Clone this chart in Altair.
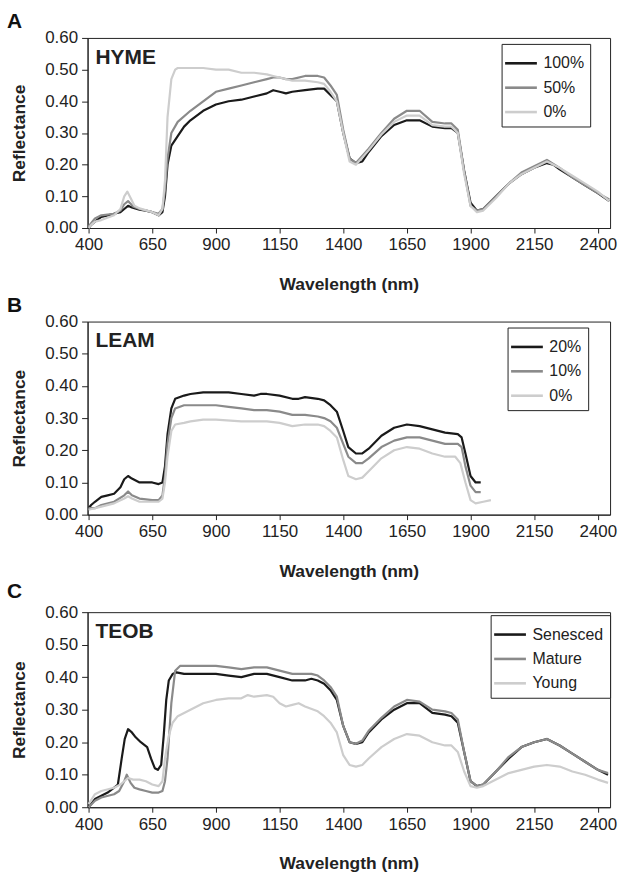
import altair as alt
import pandas as pd

# ---------------- Panel A: HYME ----------------
a100_wl = [400, 410, 425, 450, 475, 500, 525, 540, 555, 570, 600, 625, 650, 675, 690, 700, 710, 725, 750, 775, 800, 850, 900, 950, 1000, 1050, 1100, 1125, 1150, 1175, 1200, 1250, 1300, 1325, 1350, 1375, 1400, 1425, 1450, 1475, 1500, 1550, 1600, 1650, 1700, 1750, 1800, 1825, 1850, 1875, 1900, 1925, 1950, 2000, 2050, 2100, 2150, 2200, 2225, 2250, 2300, 2350, 2400, 2445]
a100_r = [0.000, 0.010, 0.020, 0.035, 0.040, 0.045, 0.050, 0.060, 0.070, 0.065, 0.058, 0.055, 0.050, 0.040, 0.050, 0.100, 0.200, 0.260, 0.290, 0.320, 0.340, 0.370, 0.390, 0.400, 0.405, 0.415, 0.425, 0.435, 0.430, 0.425, 0.430, 0.435, 0.440, 0.440, 0.420, 0.400, 0.300, 0.220, 0.205, 0.210, 0.240, 0.290, 0.325, 0.340, 0.340, 0.320, 0.315, 0.315, 0.300, 0.180, 0.080, 0.055, 0.060, 0.100, 0.140, 0.170, 0.190, 0.205, 0.200, 0.185, 0.160, 0.135, 0.110, 0.085]

a50_wl = [400, 410, 425, 450, 500, 525, 540, 555, 575, 600, 650, 675, 690, 700, 710, 725, 750, 800, 850, 900, 950, 1000, 1050, 1100, 1125, 1150, 1175, 1200, 1250, 1300, 1325, 1350, 1375, 1400, 1425, 1450, 1500, 1550, 1600, 1650, 1700, 1750, 1800, 1825, 1850, 1875, 1900, 1925, 1950, 2000, 2050, 2100, 2150, 2200, 2250, 2300, 2350, 2400, 2445]
a50_r = [0.005, 0.015, 0.030, 0.040, 0.045, 0.055, 0.075, 0.085, 0.068, 0.060, 0.050, 0.045, 0.060, 0.120, 0.220, 0.300, 0.335, 0.370, 0.400, 0.430, 0.440, 0.450, 0.460, 0.470, 0.475, 0.475, 0.470, 0.470, 0.480, 0.480, 0.475, 0.450, 0.420, 0.310, 0.220, 0.205, 0.250, 0.300, 0.345, 0.370, 0.370, 0.335, 0.330, 0.330, 0.310, 0.180, 0.070, 0.055, 0.060, 0.100, 0.140, 0.175, 0.195, 0.215, 0.190, 0.160, 0.135, 0.110, 0.090]

a0_wl = [400, 410, 425, 450, 500, 525, 540, 552, 565, 580, 600, 650, 675, 690, 700, 710, 725, 740, 750, 800, 850, 900, 950, 1000, 1050, 1100, 1125, 1150, 1200, 1250, 1300, 1325, 1350, 1375, 1400, 1425, 1450, 1500, 1550, 1600, 1650, 1700, 1750, 1800, 1825, 1850, 1875, 1900, 1925, 1950, 2000, 2050, 2100, 2150, 2200, 2250, 2300, 2350, 2400, 2445]
a0_r = [0.000, 0.010, 0.020, 0.025, 0.040, 0.060, 0.100, 0.115, 0.095, 0.070, 0.062, 0.050, 0.040, 0.060, 0.150, 0.350, 0.470, 0.500, 0.505, 0.505, 0.505, 0.500, 0.500, 0.490, 0.490, 0.485, 0.480, 0.475, 0.465, 0.465, 0.460, 0.455, 0.430, 0.400, 0.300, 0.210, 0.200, 0.245, 0.295, 0.335, 0.355, 0.355, 0.325, 0.320, 0.320, 0.300, 0.170, 0.070, 0.050, 0.055, 0.095, 0.140, 0.170, 0.190, 0.210, 0.190, 0.165, 0.140, 0.115, 0.085]

# ---------------- Panel B: LEAM ----------------
b20_wl = [400, 410, 425, 450, 475, 500, 525, 540, 555, 570, 600, 625, 650, 675, 690, 700, 710, 725, 740, 775, 800, 850, 900, 950, 1000, 1050, 1075, 1100, 1150, 1200, 1225, 1250, 1300, 1325, 1350, 1375, 1400, 1420, 1450, 1475, 1500, 1550, 1600, 1650, 1700, 1750, 1800, 1850, 1865, 1880, 1900, 1920, 1940]
b20_r = [0.020, 0.030, 0.040, 0.055, 0.060, 0.065, 0.085, 0.110, 0.120, 0.112, 0.100, 0.100, 0.100, 0.095, 0.100, 0.150, 0.250, 0.330, 0.360, 0.370, 0.375, 0.380, 0.380, 0.380, 0.375, 0.370, 0.375, 0.375, 0.370, 0.360, 0.360, 0.365, 0.360, 0.355, 0.340, 0.320, 0.260, 0.210, 0.190, 0.190, 0.205, 0.245, 0.270, 0.280, 0.275, 0.265, 0.255, 0.250, 0.240, 0.190, 0.120, 0.100, 0.100]

b10_wl = [400, 425, 450, 500, 540, 555, 570, 600, 650, 675, 690, 700, 710, 725, 740, 775, 800, 900, 950, 1000, 1050, 1100, 1150, 1200, 1250, 1300, 1325, 1350, 1375, 1400, 1420, 1450, 1475, 1500, 1550, 1600, 1650, 1700, 1750, 1800, 1850, 1865, 1880, 1900, 1920, 1940]
b10_r = [0.020, 0.020, 0.030, 0.040, 0.060, 0.072, 0.060, 0.050, 0.045, 0.045, 0.060, 0.120, 0.220, 0.300, 0.330, 0.340, 0.340, 0.340, 0.335, 0.330, 0.325, 0.325, 0.320, 0.310, 0.310, 0.305, 0.300, 0.290, 0.270, 0.220, 0.180, 0.160, 0.160, 0.175, 0.210, 0.230, 0.240, 0.240, 0.230, 0.220, 0.220, 0.210, 0.150, 0.090, 0.070, 0.070]

b0_wl = [400, 425, 450, 500, 540, 555, 570, 600, 650, 675, 690, 700, 710, 725, 740, 775, 800, 850, 900, 1000, 1050, 1100, 1150, 1200, 1250, 1300, 1325, 1350, 1375, 1400, 1420, 1450, 1475, 1500, 1550, 1600, 1650, 1700, 1750, 1800, 1840, 1860, 1880, 1900, 1920, 1950, 1980]
b0_r = [0.015, 0.020, 0.025, 0.035, 0.050, 0.057, 0.050, 0.040, 0.040, 0.040, 0.050, 0.100, 0.180, 0.260, 0.280, 0.285, 0.290, 0.295, 0.295, 0.290, 0.290, 0.290, 0.285, 0.275, 0.280, 0.280, 0.275, 0.260, 0.240, 0.170, 0.120, 0.110, 0.115, 0.135, 0.175, 0.200, 0.210, 0.205, 0.190, 0.180, 0.180, 0.160, 0.100, 0.045, 0.035, 0.040, 0.045]

# ---------------- Panel C: TEOB ----------------
cs_wl = [400, 425, 450, 475, 500, 515, 530, 542, 555, 570, 585, 605, 630, 645, 660, 672, 685, 695, 705, 715, 730, 745, 775, 850, 900, 950, 1000, 1050, 1100, 1150, 1200, 1250, 1275, 1300, 1325, 1350, 1375, 1400, 1425, 1450, 1475, 1500, 1550, 1600, 1650, 1700, 1750, 1800, 1825, 1850, 1875, 1900, 1925, 1950, 2000, 2050, 2100, 2150, 2200, 2250, 2300, 2350, 2400, 2440]
cs_r = [0.000, 0.025, 0.035, 0.045, 0.060, 0.070, 0.150, 0.210, 0.240, 0.230, 0.215, 0.200, 0.185, 0.150, 0.120, 0.115, 0.130, 0.220, 0.330, 0.390, 0.410, 0.415, 0.410, 0.410, 0.410, 0.405, 0.400, 0.410, 0.410, 0.400, 0.390, 0.390, 0.395, 0.390, 0.380, 0.360, 0.330, 0.250, 0.200, 0.195, 0.200, 0.230, 0.270, 0.300, 0.320, 0.320, 0.290, 0.285, 0.280, 0.260, 0.170, 0.080, 0.065, 0.070, 0.110, 0.150, 0.185, 0.200, 0.210, 0.190, 0.165, 0.140, 0.115, 0.100]

cm_wl = [400, 425, 450, 500, 520, 540, 550, 565, 580, 600, 625, 650, 675, 690, 700, 710, 725, 740, 760, 800, 900, 950, 1000, 1050, 1100, 1150, 1200, 1250, 1275, 1300, 1325, 1350, 1375, 1400, 1425, 1450, 1475, 1500, 1550, 1600, 1650, 1700, 1750, 1800, 1825, 1850, 1875, 1900, 1925, 1950, 2000, 2050, 2100, 2150, 2200, 2250, 2300, 2350, 2400, 2440]
cm_r = [0.000, 0.020, 0.030, 0.040, 0.050, 0.080, 0.100, 0.075, 0.060, 0.055, 0.050, 0.045, 0.045, 0.050, 0.080, 0.150, 0.320, 0.420, 0.435, 0.435, 0.435, 0.430, 0.425, 0.430, 0.430, 0.420, 0.410, 0.410, 0.410, 0.405, 0.390, 0.370, 0.340, 0.250, 0.200, 0.195, 0.205, 0.235, 0.275, 0.310, 0.330, 0.325, 0.300, 0.295, 0.290, 0.270, 0.170, 0.080, 0.065, 0.070, 0.110, 0.155, 0.185, 0.200, 0.210, 0.190, 0.165, 0.140, 0.115, 0.105]

cy_wl = [400, 425, 450, 500, 525, 540, 555, 575, 600, 625, 650, 675, 690, 700, 715, 730, 750, 800, 850, 900, 950, 1000, 1025, 1050, 1100, 1125, 1150, 1175, 1200, 1225, 1250, 1300, 1325, 1350, 1375, 1400, 1425, 1450, 1475, 1500, 1550, 1600, 1650, 1700, 1750, 1800, 1825, 1850, 1875, 1900, 1925, 1950, 2000, 2050, 2100, 2150, 2200, 2250, 2300, 2350, 2400, 2440]
cy_r = [0.010, 0.040, 0.050, 0.060, 0.070, 0.080, 0.090, 0.085, 0.085, 0.080, 0.070, 0.065, 0.080, 0.150, 0.220, 0.260, 0.280, 0.300, 0.320, 0.330, 0.335, 0.335, 0.345, 0.340, 0.345, 0.340, 0.320, 0.310, 0.315, 0.320, 0.310, 0.295, 0.280, 0.260, 0.230, 0.160, 0.130, 0.125, 0.130, 0.150, 0.185, 0.210, 0.225, 0.220, 0.200, 0.190, 0.190, 0.170, 0.110, 0.065, 0.060, 0.065, 0.085, 0.105, 0.115, 0.125, 0.130, 0.125, 0.110, 0.100, 0.085, 0.075]

x_ticks = [400, 650, 900, 1150, 1400, 1650, 1900, 2150, 2400]
y_ticks = [0.0, 0.1, 0.2, 0.3, 0.4, 0.5, 0.6]
shades = ["#1a1a1a", "#8a8a8a", "#cdcdcd"]
FONT = "Liberation Sans"
LEGEND_LINE = "M-1.33,0H1.33"


def frame(series):
    rows = []
    for name, wl, r in series:
        for w, v in zip(wl, r):
            rows.append({"wl": w, "r": v, "s": name})
    return pd.DataFrame(rows)


def panel(letter, label, series, height, leg_x, leg_y, title_offset):
    names = [s[0] for s in series]
    df = frame(series)
    lines = alt.Chart(df).mark_line(strokeWidth=2.2, strokeJoin="round").encode(
        x=alt.X("wl:Q", scale=alt.Scale(domain=[396, 2448], nice=False, zero=False),
                axis=alt.Axis(values=x_ticks, format="d", title="Wavelength (nm)",
                              titlePadding=23, labelPadding=4, tickSize=5, labelFlush=False)),
        y=alt.Y("r:Q", scale=alt.Scale(domain=[0, 0.6], nice=False),
                axis=alt.Axis(values=y_ticks, format=".2f", title="Reflectance",
                              titlePadding=16, labelPadding=4, tickSize=6)),
        color=alt.Color("s:N", sort=names,
                        scale=alt.Scale(domain=names, range=shades),
                        legend=alt.Legend(title=None, orient="none", legendX=leg_x, legendY=leg_y,
                                          symbolType=LEGEND_LINE, symbolSize=576, symbolStrokeWidth=2.6,
                                          labelFontSize=16, labelFont=FONT, labelColor="#222",
                                          strokeColor="#222", fillColor="white", padding=6,
                                          rowPadding=2.5, labelOffset=9)),
        detail="s:N",
    )
    tag = alt.Chart(pd.DataFrame({"t": [label]})).mark_text(
        align="left", baseline="middle", fontSize=21, fontWeight="bold", font=FONT, color="#222"
    ).encode(x=alt.value(8), y=alt.value(20), text="t:N")
    return alt.layer(lines, tag).properties(
        width=525, height=height,
        title=alt.TitleParams(letter, anchor="start", frame="group", dx=-81, offset=title_offset,
                              fontSize=21, fontWeight="bold", font=FONT, color="#111"),
    )


pa = panel("A", "HYME", [("100%", a100_wl, a100_r), ("50%", a50_wl, a50_r), ("0%", a0_wl, a0_r)], 191, 416, 6, -3)
pb = panel("B", "LEAM", [("20%", b20_wl, b20_r), ("10%", b10_wl, b10_r), ("0%", b0_wl, b0_r)], 194, 422, 6, -3)
pc = panel("C", "TEOB", [("Senesced", cs_wl, cs_r), ("Mature", cm_wl, cm_r), ("Young", cy_wl, cy_r)], 196, 405, 3, 1)

chart = alt.vconcat(pa, pb, pc, spacing=0).resolve_scale(
    color="independent", x="independent", y="independent"
).resolve_legend(color="independent").properties(
    padding={"left": 6, "top": 8, "right": 6, "bottom": 2}, background="white"
).configure_view(stroke="#222", strokeWidth=1).configure_axis(
    grid=False, domainColor="#222", tickColor="#222", labelColor="#222", titleColor="#222",
    labelFont=FONT, titleFont=FONT, labelFontSize=17, titleFontSize=17.5, titleFontWeight="bold"
)

chart.save("out.html", embed_options={"renderer": "svg", "actions": False})
